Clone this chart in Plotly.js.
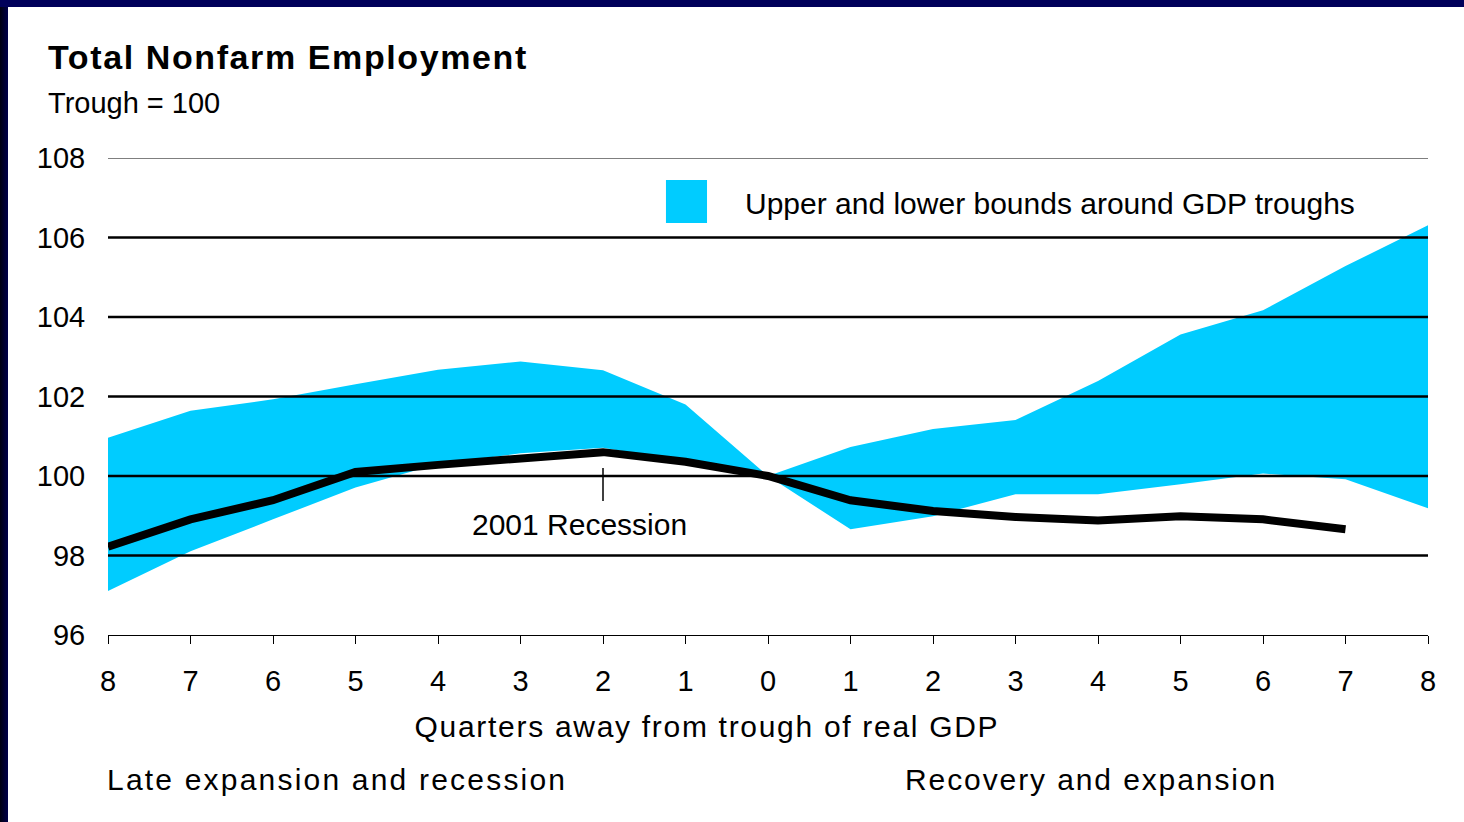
<!DOCTYPE html>
<html><head><meta charset="utf-8">
<script src="https://cdn.plot.ly/plotly-3.0.1.min.js"></script>
<style>
html,body{margin:0;padding:0;width:1464px;height:822px;overflow:hidden;background:linear-gradient(to right,#000010 0px,#00004a 8px);}
#top{position:absolute;left:0;top:0;width:1464px;height:7px;background:#00005a;}
#chart{position:absolute;left:8px;top:7px;width:1456px;height:815px;background:#fff;}
</style></head>
<body><div id="top"></div><div id="chart"></div>
<script>
const quarters = [-8,-7,-6,-5,-4,-3,-2,-1,0,1,2,3,4,5,6,7,8];
const tickLabels = ["8","7","6","5","4","3","2","1","0","1","2","3","4","5","6","7","8"];
const upperBound = [100.96,101.64,101.93,102.31,102.67,102.88,102.66,101.8,100.0,100.73,101.18,101.41,102.39,103.56,104.17,105.28,106.31];
const lowerBound = [97.11,98.11,98.91,99.71,100.3,100.57,100.71,100.35,100.0,98.66,98.99,99.54,99.54,99.79,100.06,99.92,99.19];
const recessionQuarters = [-8,-7,-6,-5,-4,-3,-2,-1,0,1,2,3,4,5,6,7];
const employment2001 = [98.22,98.91,99.39,100.1,100.28,100.42,100.6,100.36,100.0,99.39,99.12,98.97,98.88,98.99,98.91,98.66];
const gridValues = [98,100,102,104,106];
const legendText = "Upper and lower bounds around GDP troughs";

const FONT = "Liberation Sans, Arial, sans-serif";
const traces = [
  {x: quarters, y: lowerBound, type:'scatter', mode:'lines', line:{width:0,color:'#00CCFF'}, hoverinfo:'skip', showlegend:false},
  {x: quarters, y: upperBound, type:'scatter', mode:'lines', fill:'tonexty', fillcolor:'#00CCFF', line:{width:0,color:'#00CCFF'}, name: legendText, showlegend:false},
  {x: recessionQuarters, y: employment2001, type:'scatter', mode:'lines', line:{width:8,color:'#000000'}, name:'2001 Recession', showlegend:false}
];

const shapes = gridValues.map(v => ({type:'line', xref:'paper', yref:'y', x0:0, x1:1, y0:v, y1:v, line:{color:'#000', width:2.5}, layer:'above'}));
shapes.push({type:'line', xref:'paper', yref:'y', x0:0, x1:1, y0:108, y1:108, line:{color:'#000', width:1}, layer:'above'});
shapes.push({type:'line', xref:'x', yref:'y', x0:-2, x1:-2, y0:100.2, y1:99.37, line:{color:'#000', width:1.5}, layer:'above'});
shapes.push({type:'rect', xref:'paper', yref:'paper', x0:0.4227, x1:0.4538, y0:0.8637, y1:0.9539, fillcolor:'#00CCFF', line:{width:0}});

const annotations = [
  {text:'<b>Total Nonfarm Employment</b>', xref:'paper', yref:'paper', x:-0.047, y:1.2117, xanchor:'left', yanchor:'middle', showarrow:false, font:{family:FONT, size:34, color:'#000'}},
  {text:'Trough = 100', xref:'paper', yref:'paper', x:-0.047, y:1.1153, xanchor:'left', yanchor:'middle', showarrow:false, font:{family:FONT, size:29, color:'#000'}},
  {text:legendText, xref:'paper', yref:'paper', x:0.4811, y:0.9036, xanchor:'left', yanchor:'middle', showarrow:false, font:{family:FONT, size:30, color:'#000'}},
  {text:'2001 Recession', xref:'x', yref:'y', x:-2.28, y:98.79, xanchor:'center', yanchor:'middle', showarrow:false, font:{family:FONT, size:30, color:'#000'}},
  {text:'Quarters away from trough of real GDP', xref:'paper', yref:'paper', x:0.454, y:-0.1908, xanchor:'center', yanchor:'middle', showarrow:false, font:{family:FONT, size:30, color:'#000'}},
  {text:'Late expansion and recession', xref:'paper', yref:'paper', x:-0.0023, y:-0.3027, xanchor:'left', yanchor:'middle', showarrow:false, font:{family:FONT, size:30, color:'#000'}},
  {text:'Recovery and expansion', xref:'paper', yref:'paper', x:0.6023, y:-0.3027, xanchor:'left', yanchor:'middle', showarrow:false, font:{family:FONT, size:30, color:'#000'}}
];

const layout = {
  width:1456, height:815,
  margin:{l:100, r:36, t:151, b:187, pad:0},
  paper_bgcolor:'#fff', plot_bgcolor:'#fff',
  font:{family:FONT, color:'#000'},
  xaxis:{range:[-8,8], tickvals:quarters, ticktext:tickLabels, showgrid:false, zeroline:false,
         showline:true, linecolor:'#000', linewidth:1, ticks:'outside', ticklen:8, tickcolor:'#000', tickwidth:1,
         ticklabelstandoff:12, tickfont:{family:FONT, size:29, color:'#000'}, fixedrange:true},
  yaxis:{range:[96,108], tickvals:[96,98,100,102,104,106,108], showgrid:false, zeroline:false, showline:false,
         ticks:'outside', ticklen:16, tickcolor:'rgba(0,0,0,0)', tickfont:{family:FONT, size:29, color:'#000'}, fixedrange:true},
  shapes: shapes,
  annotations: annotations,
  showlegend:false
};
Plotly.newPlot('chart', traces, layout, {displayModeBar:false, staticPlot:true}).then(gd => {
  const spacing = {0:[1.6,'left'], 4:[1.7,'center'], 5:[2.2,'left'], 6:[1.9,'left']};
  gd.querySelectorAll('.annotation').forEach(g => {
    const i = +g.getAttribute('data-index');
    if (!(i in spacing)) return;
    const t = g.querySelector('text.annotation-text');
    if (!t) return;
    const b0 = t.getBBox();
    t.style.letterSpacing = spacing[i][0] + 'px';
    const b1 = t.getBBox();
    const dx = spacing[i][1] === 'left' ? (b0.x - b1.x) : ((b0.x + b0.width/2) - (b1.x + b1.width/2));
    t.setAttribute('transform', 'translate(' + dx + ',0)');
  });
});
</script></body></html>
